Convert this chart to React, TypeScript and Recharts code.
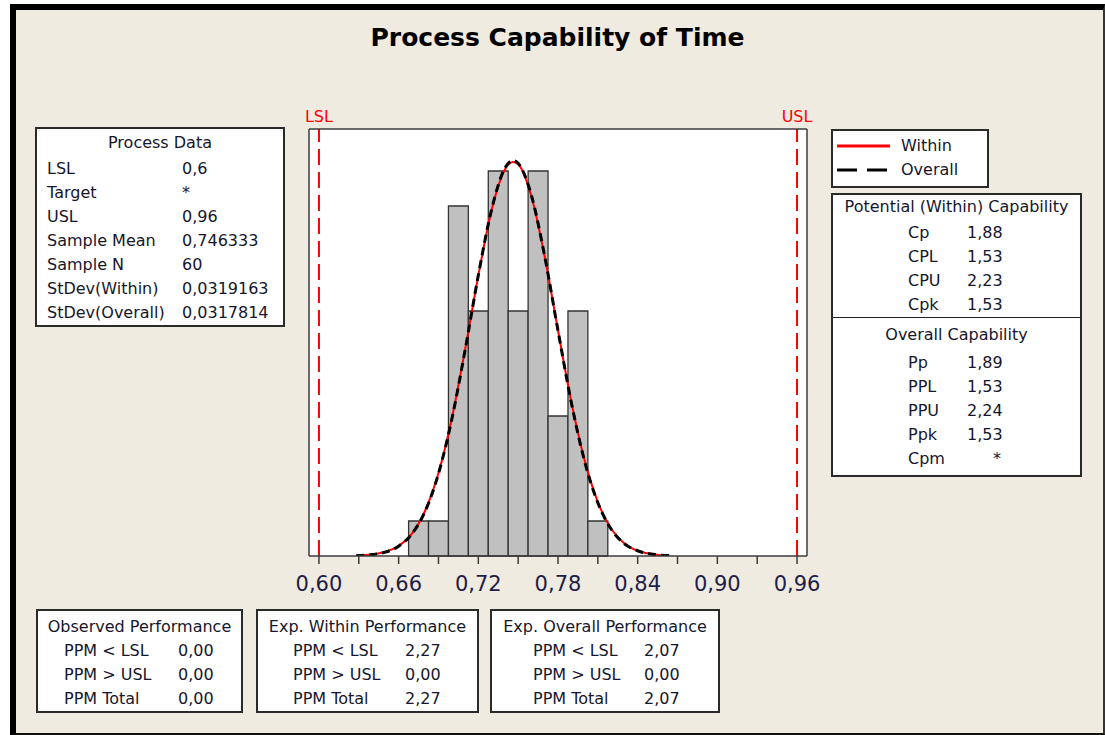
import React from "react";
import {
  ComposedChart,
  Line,
  XAxis,
  YAxis,
  CartesianGrid,
  ReferenceArea,
  ReferenceLine,
} from "recharts";

// histogram of Time (bin centres, counts)
const binCenters = [0.675, 0.69, 0.705, 0.72, 0.735, 0.75, 0.765, 0.78, 0.795, 0.81];
const binCounts = [1, 1, 10, 7, 11, 7, 11, 4, 7, 1];
const binWidth = 0.015;

// fitted curves (counts scale)
const curveX = [
  0.628, 0.64, 0.65, 0.66, 0.67, 0.68, 0.69, 0.7, 0.71, 0.72, 0.73, 0.74, 0.746,
  0.75, 0.76, 0.77, 0.78, 0.79, 0.8, 0.81, 0.82, 0.83, 0.84, 0.85, 0.864,
];
const withinY = [
  0.01, 0.04, 0.12, 0.29, 0.64, 1.3, 2.37, 3.92, 5.89, 8.01, 9.88, 11.04, 11.26,
  11.19, 10.27, 8.55, 6.45, 4.41, 2.74, 1.54, 0.78, 0.36, 0.15, 0.06, 0.01,
];
const overallY = [
  0.01, 0.04, 0.11, 0.28, 0.63, 1.28, 2.35, 3.9, 5.87, 8.02, 9.9, 11.08, 11.3,
  11.22, 10.3, 8.56, 6.44, 4.39, 2.71, 1.52, 0.77, 0.35, 0.15, 0.055, 0.01,
];

const LSL = 0.6;
const USL = 0.96;

const xTicks = [0.6, 0.63, 0.66, 0.69, 0.72, 0.75, 0.78, 0.81, 0.84, 0.87, 0.9, 0.93, 0.96];
const xTickLabels = ["0,60", "", "0,66", "", "0,72", "", "0,78", "", "0,84", "", "0,90", "", "0,96"];

const processLabels = ["LSL", "Target", "USL", "Sample Mean", "Sample N", "StDev(Within)", "StDev(Overall)"];
const processValues = ["0,6", "*", "0,96", "0,746333", "60", "0,0319163", "0,0317814"];

const withinCapLabels = ["Cp", "CPL", "CPU", "Cpk"];
const withinCapValues = ["1,88", "1,53", "2,23", "1,53"];
const overallCapLabels = ["Pp", "PPL", "PPU", "Ppk", "Cpm"];
const overallCapValues = ["1,89", "1,53", "2,24", "1,53", "*"];

const ppmLabels = ["PPM < LSL", "PPM > USL", "PPM Total"];
const observedPPM = ["0,00", "0,00", "0,00"];
const expWithinPPM = ["2,27", "0,00", "2,27"];
const expOverallPPM = ["2,07", "0,00", "2,07"];

const withinData = curveX.map((x, i) => ({ x, y: withinY[i] }));
const overallData = curveX.map((x, i) => ({ x, y: overallY[i] }));

const BG = "#efebe1";
const TEXT = "#16162c";
const FRAME = "#3c3c3c";
const FONT = '"DejaVu Sans", Verdana, sans-serif';

function Box(props: { left: number; top: number; width: number; height: number; children?: React.ReactNode }) {
  return (
    <div
      style={{
        position: "absolute",
        left: props.left,
        top: props.top,
        width: props.width,
        height: props.height,
        boxSizing: "border-box",
        border: "2px solid #2a2a2a",
        background: "#fff",
        overflow: "hidden",
      }}
    >
      {props.children}
    </div>
  );
}

function Row(props: { label: string; value: string; indent: number; labelWidth: number; valueWidth?: number; right?: boolean }) {
  return (
    <div style={{ height: 24, lineHeight: "24px", display: "flex", whiteSpace: "nowrap" }}>
      <span style={{ marginLeft: props.indent, width: props.labelWidth }}>{props.label}</span>
      <span style={{ width: props.valueWidth, textAlign: props.right ? "right" : "left" }}>{props.value}</span>
    </div>
  );
}

function PPMBox(props: { left: number; width: number; title: string; values: string[]; indent: number; labelWidth: number }) {
  return (
    <Box left={props.left} top={609} width={props.width} height={104}>
      <div style={{ paddingTop: 3.5 }}>
        <div style={{ height: 24, lineHeight: "24px", textAlign: "center", whiteSpace: "nowrap" }}>{props.title}</div>
        {ppmLabels.map((l, i) => (
          <Row key={l} label={l} value={props.values[i]} indent={props.indent} labelWidth={props.labelWidth} />
        ))}
      </div>
    </Box>
  );
}

export default function App() {
  return (
    <div
      style={{
        position: "fixed",
        left: 0,
        top: 0,
        width: 1105,
        height: 735,
        background: "#fff",
        fontFamily: FONT,
        fontSize: 16,
        color: TEXT,
      }}
    >
      <div
        style={{
          position: "absolute",
          left: 10,
          top: 4,
          width: 1095,
          height: 731,
          boxSizing: "border-box",
          background: BG,
          borderTop: "6px solid #000",
          borderLeft: "6px solid #000",
          borderRight: "2px solid #333",
          borderBottom: "2px solid #111",
        }}
      />
      <div
        style={{
          position: "absolute",
          left: 10,
          top: 23.4,
          width: 1095,
          height: 30,
          lineHeight: "30px",
          textAlign: "center",
          fontWeight: "bold",
          fontSize: 25,
          color: "#000",
        }}
      >
        Process Capability of Time
      </div>

      <div style={{ position: "absolute", left: 0, top: 0 }}>
        <ComposedChart
          width={1105}
          height={735}
          margin={{ top: 128, right: 297, left: 308, bottom: 139 }}
        >
          <CartesianGrid fill="#fff" horizontal={false} vertical={false} />
          <XAxis
            dataKey="x"
            type="number"
            domain={[0.5925, 0.9675]}
            allowDataOverflow
            ticks={xTicks}
            interval={0}
            tickFormatter={(_v: number, i: number) => xTickLabels[i]}
            tickSize={8}
            tickMargin={12}
            height={40}
            stroke={FRAME}
            strokeWidth={1.5}
            tick={{ fontSize: 21, fill: "#1e1e48", fontFamily: FONT }}
          />
          <XAxis
            xAxisId="top"
            orientation="top"
            type="number"
            domain={[0.5925, 0.9675]}
            height={1}
            tick={false}
            tickLine={false}
            stroke={FRAME}
            strokeWidth={1.5}
          />
          <YAxis type="number" domain={[0, 12.2]} allowDataOverflow width={1} tick={false} tickLine={false} stroke={FRAME} strokeWidth={1.5} />
          <YAxis yAxisId="right" orientation="right" type="number" domain={[0, 12.2]} width={1} tick={false} tickLine={false} stroke={FRAME} strokeWidth={1.5} />

          {binCenters.map((c, i) => (
            <ReferenceArea
              key={c}
              x1={c - binWidth / 2}
              x2={c + binWidth / 2}
              y1={0}
              y2={binCounts[i]}
              fill="#c0c0c0"
              fillOpacity={1}
              stroke="#333"
              strokeWidth={1.3}
            />
          ))}

          <ReferenceLine
            x={LSL}
            stroke="#ff0000"
            strokeWidth={2}
            strokeDasharray="16 7"
            label={{ value: "LSL", position: "top", offset: 7, fill: "#ff0000", fontSize: 16, fontFamily: FONT }}
          />
          <ReferenceLine
            x={USL}
            stroke="#ff0000"
            strokeWidth={2}
            strokeDasharray="16 7"
            label={{ value: "USL", position: "top", offset: 7, fill: "#ff0000", fontSize: 16, fontFamily: FONT }}
          />

          <Line
            data={withinData}
            dataKey="y"
            type="monotone"
            stroke="#ff0000"
            strokeWidth={2}
            dot={false}
            isAnimationActive={false}
          />
          <Line
            data={overallData}
            dataKey="y"
            type="monotone"
            stroke="#000"
            strokeWidth={3}
            strokeDasharray="8 5"
            dot={false}
            isAnimationActive={false}
          />
        </ComposedChart>
      </div>

      {/* Process Data */}
      <Box left={35} top={127} width={250} height={200}>
        <div style={{ height: 27.5, lineHeight: "27.5px", textAlign: "center" }}>Process Data</div>
        {processLabels.map((l, i) => (
          <Row key={l} label={l} value={processValues[i]} indent={10} labelWidth={135} />
        ))}
      </Box>

      {/* Legend */}
      <Box left={831} top={129} width={158} height={59}>
        <div style={{ paddingTop: 2.5 }}>
          <div style={{ height: 24, lineHeight: "24px", display: "flex", alignItems: "center" }}>
            <svg width={53} height={24} style={{ marginLeft: 4, marginRight: 11 }}>
              <line x1={0} y1={12} x2={53} y2={12} stroke="#ff0000" strokeWidth={3} />
            </svg>
            <span>Within</span>
          </div>
          <div style={{ height: 24, lineHeight: "24px", display: "flex", alignItems: "center" }}>
            <svg width={53} height={24} style={{ marginLeft: 4, marginRight: 11 }}>
              <line x1={0} y1={12} x2={53} y2={12} stroke="#000" strokeWidth={3} strokeDasharray="20 10" />
            </svg>
            <span>Overall</span>
          </div>
        </div>
      </Box>

      {/* Capability */}
      <Box left={831} top={193} width={251} height={284}>
        <div style={{ height: 24, lineHeight: "24px", textAlign: "center", whiteSpace: "nowrap" }}>
          Potential (Within) Capability
        </div>
        <div style={{ marginTop: 2 }}>
          {withinCapLabels.map((l, i) => (
            <Row key={l} label={l} value={withinCapValues[i]} indent={75} labelWidth={59} valueWidth={34} right />
          ))}
        </div>
        <div style={{ borderTop: "1px solid #222", paddingTop: 4.5 }}>
          <div style={{ height: 24, lineHeight: "24px", textAlign: "center" }}>Overall Capability</div>
          <div style={{ marginTop: 4 }}>
            {overallCapLabels.map((l, i) => (
              <Row key={l} label={l} value={overallCapValues[i]} indent={75} labelWidth={59} valueWidth={34} right />
            ))}
          </div>
        </div>
      </Box>

      {/* Performance */}
      <PPMBox left={36} width={207} title="Observed Performance" values={observedPPM} indent={26} labelWidth={114} />
      <PPMBox left={256} width={223} title="Exp. Within Performance" values={expWithinPPM} indent={35} labelWidth={112} />
      <PPMBox left={490} width={230} title="Exp. Overall Performance" values={expOverallPPM} indent={41} labelWidth={111} />
    </div>
  );
}
